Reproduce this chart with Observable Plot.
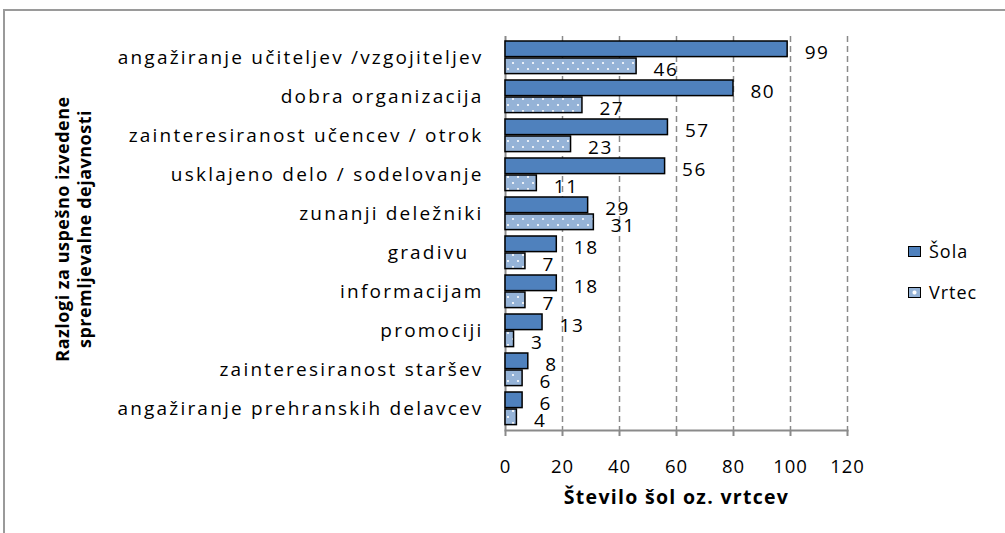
<!DOCTYPE html>
<html>
<head>
<meta charset="utf-8">
<script src="https://cdn.jsdelivr.net/npm/d3@7"></script>
<script src="https://cdn.jsdelivr.net/npm/@observablehq/plot@0.6"></script>
<style>
  html, body { margin: 0; padding: 0; background: #fff; }
  #wrap { position: relative; width: 1005px; height: 533px; overflow: hidden; font-family: "Open Sans", sans-serif; }
  #chart { position: absolute; left: 0; top: 0; z-index: 1; }
  #bt { position: absolute; left: 3px; top: 9px; width: 1002px; height: 2px; background: #9a9a9a; z-index: 5; }
  #bl { position: absolute; left: 3px; top: 9px; width: 2px; height: 524px; background: #9a9a9a; z-index: 5; }
  #chart svg .ylab text { letter-spacing: 2.2px; }
  #chart svg .num text { letter-spacing: 1.5px; }
  #chart svg .xlab text { letter-spacing: 1px; }
  #chart svg .xtitle text { letter-spacing: 1.3px; }
  #ytitle { position: absolute; z-index: 6; left: 73px; top: 229px; transform: translate(-50%, -50%) rotate(-90deg); white-space: nowrap; text-align: center; font-weight: bold; font-size: 18px; letter-spacing: 0.5px; line-height: 22px; color: #000; }
  .leg { position: absolute; z-index: 6; left: 908px; display: flex; align-items: center; font-size: 18px; letter-spacing: 1px; color: #000; }
  .sw { width: 11px; height: 9px; border: 1.5px solid #000; margin-right: 8px; }
</style>
</head>
<body>
<div id="wrap">
  <div id="chart"></div>
  <div id="bt"></div>
  <div id="bl"></div>
  <div id="ytitle">Razlogi za uspešno izvedene<br>spremljevalne dejavnosti</div>
  <div class="leg" style="top:239px"><div class="sw" style="background:#4F81BD"></div>Šola</div>
  <div class="leg" style="top:280px"><div class="sw" style="background:radial-gradient(circle, #ffffff 0 1.5px, #95B3D7 2.5px)"></div>Vrtec</div>
</div>
<script>
const categories = [
  "angažiranje učiteljev /vzgojiteljev",
  "dobra organizacija",
  "zainteresiranost učencev / otrok",
  "usklajeno delo / sodelovanje",
  "zunanji deležniki",
  "gradivu\u00a0\u00a0",
  "informacijam",
  "promociji",
  "zainteresiranost staršev",
  "angažiranje prehranskih delavcev"
];
const sola  = [99, 80, 57, 56, 29, 18, 18, 13, 8, 6];
const vrtec = [46, 27, 23, 11, 31, 7, 7, 3, 6, 4];
const xTicks = [0, 20, 40, 60, 80, 100, 120];
const xTitle = "Število šol oz. vrtcev";

const data = categories.map((c, i) => ({category: c, sola: sola[i], vrtec: vrtec[i]}));

const chart = Plot.plot({
  width: 1005,
  height: 533,
  marginLeft: 505,
  marginRight: 158,
  marginTop: 36,
  marginBottom: 103,
  style: {fontFamily: "Open Sans, sans-serif", fontSize: "18px", color: "#000", background: "transparent"},
  x: {domain: [0, 120], ticks: xTicks},
  y: {domain: categories, padding: 0},
  marks: [
    Plot.ruleX(xTicks.filter(d => d > 0), {stroke: "#8a8a8a", strokeWidth: 1.5, strokeDasharray: "6,4"}),
    Plot.ruleX([0], {stroke: "#8a8a8a", strokeWidth: 2}),
    Plot.frame({anchor: "bottom", stroke: "#8a8a8a", strokeWidth: 2}),
    Plot.axisX({ticks: xTicks, tickSize: 6, tickPadding: 23, stroke: "#8a8a8a", strokeWidth: 2, fontSize: 18.5, label: null, className: "xlab"}),
    Plot.axisY({tickSize: 0, tickPadding: 22, fontSize: 19, label: null, className: "ylab"}),
    Plot.barX(data, {y: "category", x: "sola", fill: "#4F81BD", stroke: "#000", strokeWidth: 1.5, insetTop: 3, insetBottom: 20.4}),
    Plot.barX(data, {y: "category", x: "vrtec", fill: "url(#dots)", stroke: "#000", strokeWidth: 1.5, insetTop: 20, insetBottom: 3.4}),
    Plot.text(data, {y: "category", x: "sola", text: d => String(d.sola), textAnchor: "start", dx: 17, dy: -5, fontSize: 19, className: "num"}),
    Plot.text(data, {y: "category", x: "vrtec", text: d => String(d.vrtec), textAnchor: "start", dx: 17, dy: 12, fontSize: 19, className: "num"}),
    Plot.text([xTitle], {frameAnchor: "bottom", dy: 73, fontWeight: "bold", fontSize: 19.5, className: "xtitle"})
  ]
});

const svg = d3.select(chart);
const defs = svg.insert("defs", ":first-child");
const pat = defs.append("pattern")
  .attr("id", "dots").attr("patternUnits", "userSpaceOnUse")
  .attr("width", 10).attr("height", 12);
pat.append("rect").attr("width", 10).attr("height", 12).attr("fill", "#95B3D7");
pat.append("circle").attr("cx", 3).attr("cy", 3).attr("r", 1.1).attr("fill", "#fff");
pat.append("circle").attr("cx", 8).attr("cy", 9).attr("r", 1.1).attr("fill", "#fff");

document.getElementById("chart").appendChild(chart);
</script>
</body>
</html>
